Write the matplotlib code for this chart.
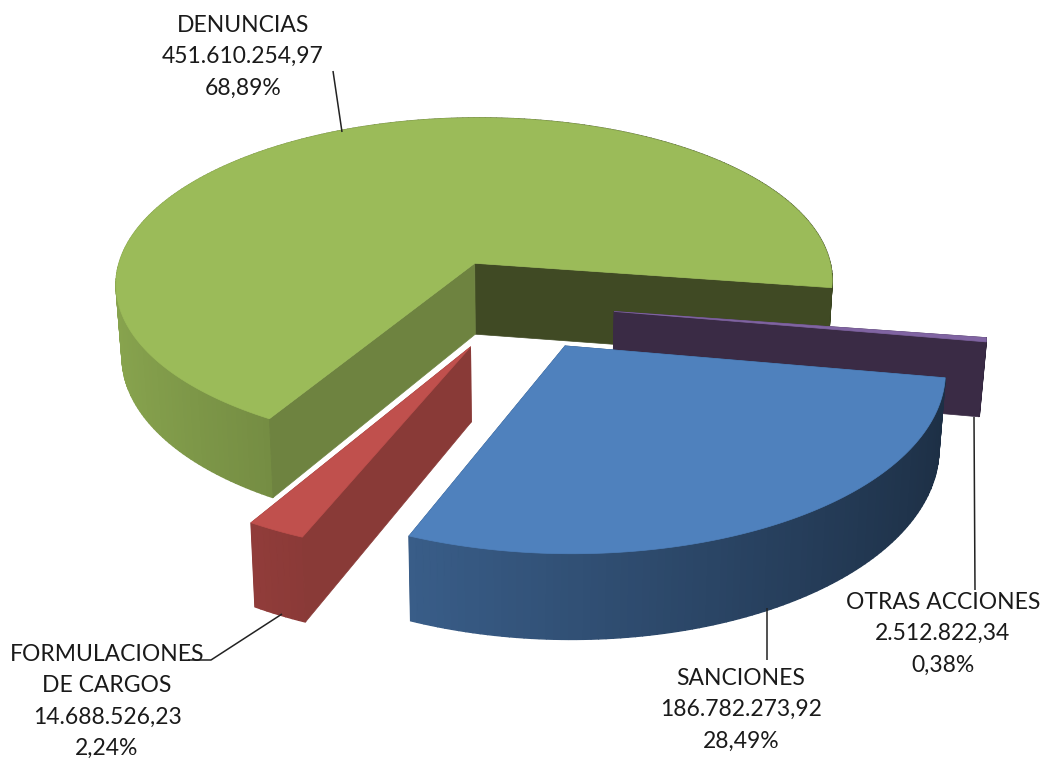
import numpy as np
import matplotlib
matplotlib.use("Agg")
import matplotlib.pyplot as plt
from matplotlib.colors import to_rgb
from matplotlib.patches import Polygon

# datos (en sentido horario desde la derecha)
categorias = ["OTRAS ACCIONES", "SANCIONES", "FORMULACIONES\nDE CARGOS", "DENUNCIAS"]
montos = [2512822.34, 186782273.92, 14688526.23, 451610254.97]
montos_txt = ["2.512.822,34", "186.782.273,92", "14.688.526,23", "451.610.254,97"]
porcentajes = ["0,38%", "28,49%", "2,24%", "68,89%"]
colores = ["#8064a2", "#4f81bd", "#c0504d", "#9bbb59"]
color_cara = ["#3a2b45", "#2a4a70", "#893a37", "#404a24"]  # cara interior visible

# pos. de las etiquetas (centro x, y de la primera linea)
pos_etiq = [(943, 600), (741, 676), (107, 652), (243, 23)]
lineas_guia = [
    [(974, 417), (975, 590)],
    [(767, 608), (767, 660)],
    [(282, 614), (211, 660), (188, 660)],
    [(342, 132), (333, 71)],
]

# parametros de la proyeccion
CX, CY = 516, 304
A, B = 366, 172
P = 0.12
EXPLOTA = 0.27
ALTO = 73
GIRO = -8.5  # angulo donde empieza la primera porcion


def proyecta(x, y, z=0.0):
    s = 1.0 / (1.0 + P * y)
    k = 1.0 - 0.015 * z
    return CX + A * x * s * k, CY - B * y * s + ALTO * z * s


def sombra(color, u):
    return tuple(np.array(to_rgb(color)) * (0.62 - 0.26 * u))


fig = plt.figure(figsize=(10.41, 7.62), dpi=100)
ax = fig.add_axes([0, 0, 1, 1])
ax.set_xlim(0, 1041)
ax.set_ylim(762, 0)
ax.axis("off")

total = sum(montos)
fin = np.radians(GIRO)
porciones = []
for i, m in enumerate(montos):
    ini = fin - 2 * np.pi * m / total
    porciones.append((i, ini, fin))
    fin = ini

# de atras hacia adelante
for i, a0, a1 in [porciones[3], porciones[0], porciones[2], porciones[1]]:
    medio = (a0 + a1) / 2
    ox, oy = EXPLOTA * np.cos(medio), EXPLOTA * np.sin(medio)
    t = np.linspace(a0, a1, max(int(np.degrees(a1 - a0)), 2) + 1)
    bx, by = ox + np.cos(t), oy + np.sin(t)

    caras = []
    for a, normal in ((a0, a0 - np.pi / 2), (a1, a1 + np.pi / 2)):
        ex, ey = ox + np.cos(a), oy + np.sin(a)
        cara = [proyecta(ox, oy), proyecta(ex, ey), proyecta(ex, ey, 1), proyecta(ox, oy, 1)]
        caras.append((np.sin(normal) < 0, cara, a))

    # caras ocultas primero
    for visible, cara, a in caras:
        if not visible:
            ax.add_patch(Polygon(cara, closed=True, fc=color_cara[i], ec=color_cara[i], lw=0.5))

    # lado curvo con degradado
    for k in range(len(t) - 1):
        quad = [proyecta(bx[k], by[k]), proyecta(bx[k + 1], by[k + 1]),
                proyecta(bx[k + 1], by[k + 1], 1), proyecta(bx[k], by[k], 1)]
        c = sombra(colores[i], np.cos(t[k]))
        ax.add_patch(Polygon(quad, closed=True, fc=c, ec=c, lw=1.0))

    for visible, cara, a in caras:
        if visible:
            c = color_cara[i]
            if i == 3 and np.sin(a) < -0.5:
                c = "#6e8340"
            ax.add_patch(Polygon(cara, closed=True, fc=c, ec=c, lw=0.5))

    tapa = [proyecta(ox, oy)] + [proyecta(x, y) for x, y in zip(bx, by)]
    ax.add_patch(Polygon(tapa, closed=True, fc=colores[i], ec=colores[i], lw=0.5))

# lineas guia y etiquetas
for guia in lineas_guia:
    gx, gy = zip(*guia)
    ax.plot(gx, gy, color="#222222", lw=1.1, solid_capstyle="butt")

for i, (x, y) in enumerate(pos_etiq):
    txt = categorias[i] + "\n" + montos_txt[i] + "\n" + porcentajes[i]
    ax.text(x, y - 8, txt, ha="center", va="top", family="Lato", fontsize=16.5,
            color="#1a1a1a", linespacing=1.6)

fig.savefig("out.png", dpi=100)
